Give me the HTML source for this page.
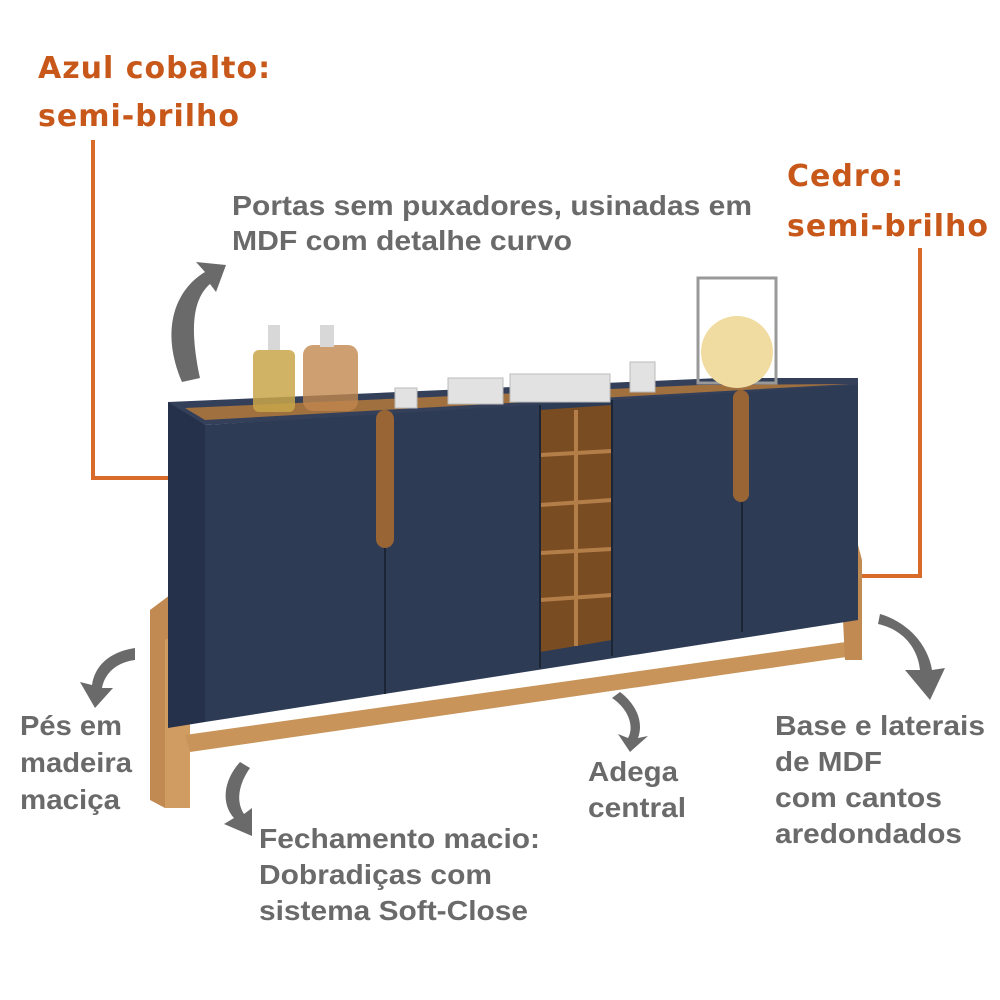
<!DOCTYPE html>
<html><head><meta charset="utf-8"><style>
html,body{margin:0;padding:0;background:#fff;width:1000px;height:1000px;overflow:hidden}
svg{display:block}
.o{font-family:"DejaVu Sans","Liberation Sans",sans-serif;font-weight:bold;fill:#c8581a;font-size:30px;letter-spacing:1px}
.g{font-family:"Liberation Sans",sans-serif;font-weight:bold;fill:#6a6a6a;font-size:28px}
</style></head><body>
<svg width="1000" height="1000" viewBox="0 0 1000 1000">
<text class="o" x="38" y="78">Azul cobalto:</text>
<text class="o" x="38" y="126">semi-brilho</text>
<text class="o" x="787" y="186">Cedro:</text>
<text class="o" x="787" y="236">semi-brilho</text>
<polyline points="93,140 93,478 168,478" fill="none" stroke="#d86a2a" stroke-width="4"/>
<polyline points="920,248 920,576 862,576" fill="none" stroke="#d86a2a" stroke-width="4"/>
<text class="g" x="232" y="215" textLength="520" lengthAdjust="spacingAndGlyphs">Portas sem puxadores, usinadas em</text>
<text class="g" x="232" y="250" textLength="340" lengthAdjust="spacingAndGlyphs">MDF com detalhe curvo</text>

<polygon points="150,610 170,595 185,600 185,808 165,808 150,800" fill="#c08a52"/>
<polygon points="165,640 185,630 190,640 190,808 165,808" fill="#d19c62"/>
<polygon points="185,735 860,640 860,655 190,752" fill="#c8945a"/>
<polygon points="840,560 858,545 862,560 862,660 845,660" fill="#c08a52"/>
<polygon points="168,402 720,378 858,378 858,388 205,425 168,415" fill="#34405a"/>
<polygon points="185,408 700,385 850,384 205,420" fill="#a0703e"/>
<polygon points="168,402 205,425 205,722 168,728" fill="#25304a"/>
<polygon points="205,425 858,385 858,620 205,722" fill="#2e3b55"/>
<polygon points="540,410 612,405 612,640 540,652" fill="#7a4c22"/>
<g stroke="#b47e48" stroke-width="4">
<line x1="576" y1="410" x2="576" y2="646"/>
<line x1="540" y1="455" x2="612" y2="451"/>
<line x1="540" y1="505" x2="612" y2="500"/>
<line x1="540" y1="553" x2="612" y2="549"/>
<line x1="540" y1="600" x2="612" y2="595"/>
</g>
<g stroke="#1c2536" stroke-width="2">
<line x1="385" y1="412" x2="385" y2="694"/>
<line x1="742" y1="392" x2="742" y2="632"/>
<line x1="540" y1="405" x2="540" y2="668"/>
<line x1="612" y1="400" x2="612" y2="656"/>
</g>
<rect x="376" y="410" width="18" height="138" rx="9" fill="#9a6535"/>
<rect x="733" y="390" width="16" height="112" rx="8" fill="#9a6535"/>
<rect x="253" y="350" width="42" height="62" rx="6" fill="#c9a64a" opacity="0.85"/>
<rect x="303" y="345" width="55" height="66" rx="10" fill="#c0874e" opacity="0.8"/>
<rect x="268" y="325" width="12" height="25" fill="#d8d8d8"/>
<rect x="320" y="325" width="14" height="22" fill="#d8d8d8"/>
<g fill="#e2e2e2" stroke="#bbb"><rect x="395" y="388" width="22" height="20"/><rect x="448" y="378" width="55" height="26"/><rect x="510" y="374" width="100" height="28"/><rect x="630" y="362" width="25" height="30"/></g>
<rect x="698" y="278" width="78" height="105" fill="none" stroke="#999" stroke-width="3"/>
<circle cx="737" cy="352" r="36" fill="#f0dca0"/>
<g fill="#6a6a6a">
<path d="M182,382 C160,330 175,290 205,272 L196,262 L226,265 L216,292 L210,284 C192,300 190,330 200,378 Z"/>
<path d="M135,648 C110,652 95,665 92,685 L80,682 L95,708 L113,688 L102,688 C105,672 118,662 135,660 Z"/>
<path d="M240,762 C222,782 222,805 234,818 L224,824 L252,836 L252,808 L244,814 C236,802 238,785 250,768 Z"/>
<path d="M612,698 C630,710 634,728 628,738 L618,734 L630,752 L648,736 L638,738 C644,722 636,704 620,692 Z"/>
<path d="M878,624 C905,630 918,650 920,670 L905,670 L930,700 L945,668 L932,670 C928,645 908,622 880,614 Z"/>
</g>
<g class="g" lengthAdjust="spacingAndGlyphs">
<text x="20" y="735" textLength="102" lengthAdjust="spacingAndGlyphs">Pés em</text>
<text x="20" y="772" textLength="112" lengthAdjust="spacingAndGlyphs">madeira</text>
<text x="20" y="809" textLength="100" lengthAdjust="spacingAndGlyphs">maciça</text>
<text x="259" y="848" textLength="281" lengthAdjust="spacingAndGlyphs">Fechamento macio:</text>
<text x="259" y="884" textLength="233" lengthAdjust="spacingAndGlyphs">Dobradiças com</text>
<text x="259" y="920" textLength="269" lengthAdjust="spacingAndGlyphs">sistema Soft-Close</text>
<text x="588" y="781" textLength="90" lengthAdjust="spacingAndGlyphs">Adega</text>
<text x="588" y="817" textLength="98" lengthAdjust="spacingAndGlyphs">central</text>
<text x="775" y="735" textLength="210" lengthAdjust="spacingAndGlyphs">Base e laterais</text>
<text x="775" y="771" textLength="107" lengthAdjust="spacingAndGlyphs">de MDF</text>
<text x="775" y="807" textLength="167" lengthAdjust="spacingAndGlyphs">com cantos</text>
<text x="775" y="843" textLength="187" lengthAdjust="spacingAndGlyphs">aredondados</text>
</g>
</svg>
</body></html>
